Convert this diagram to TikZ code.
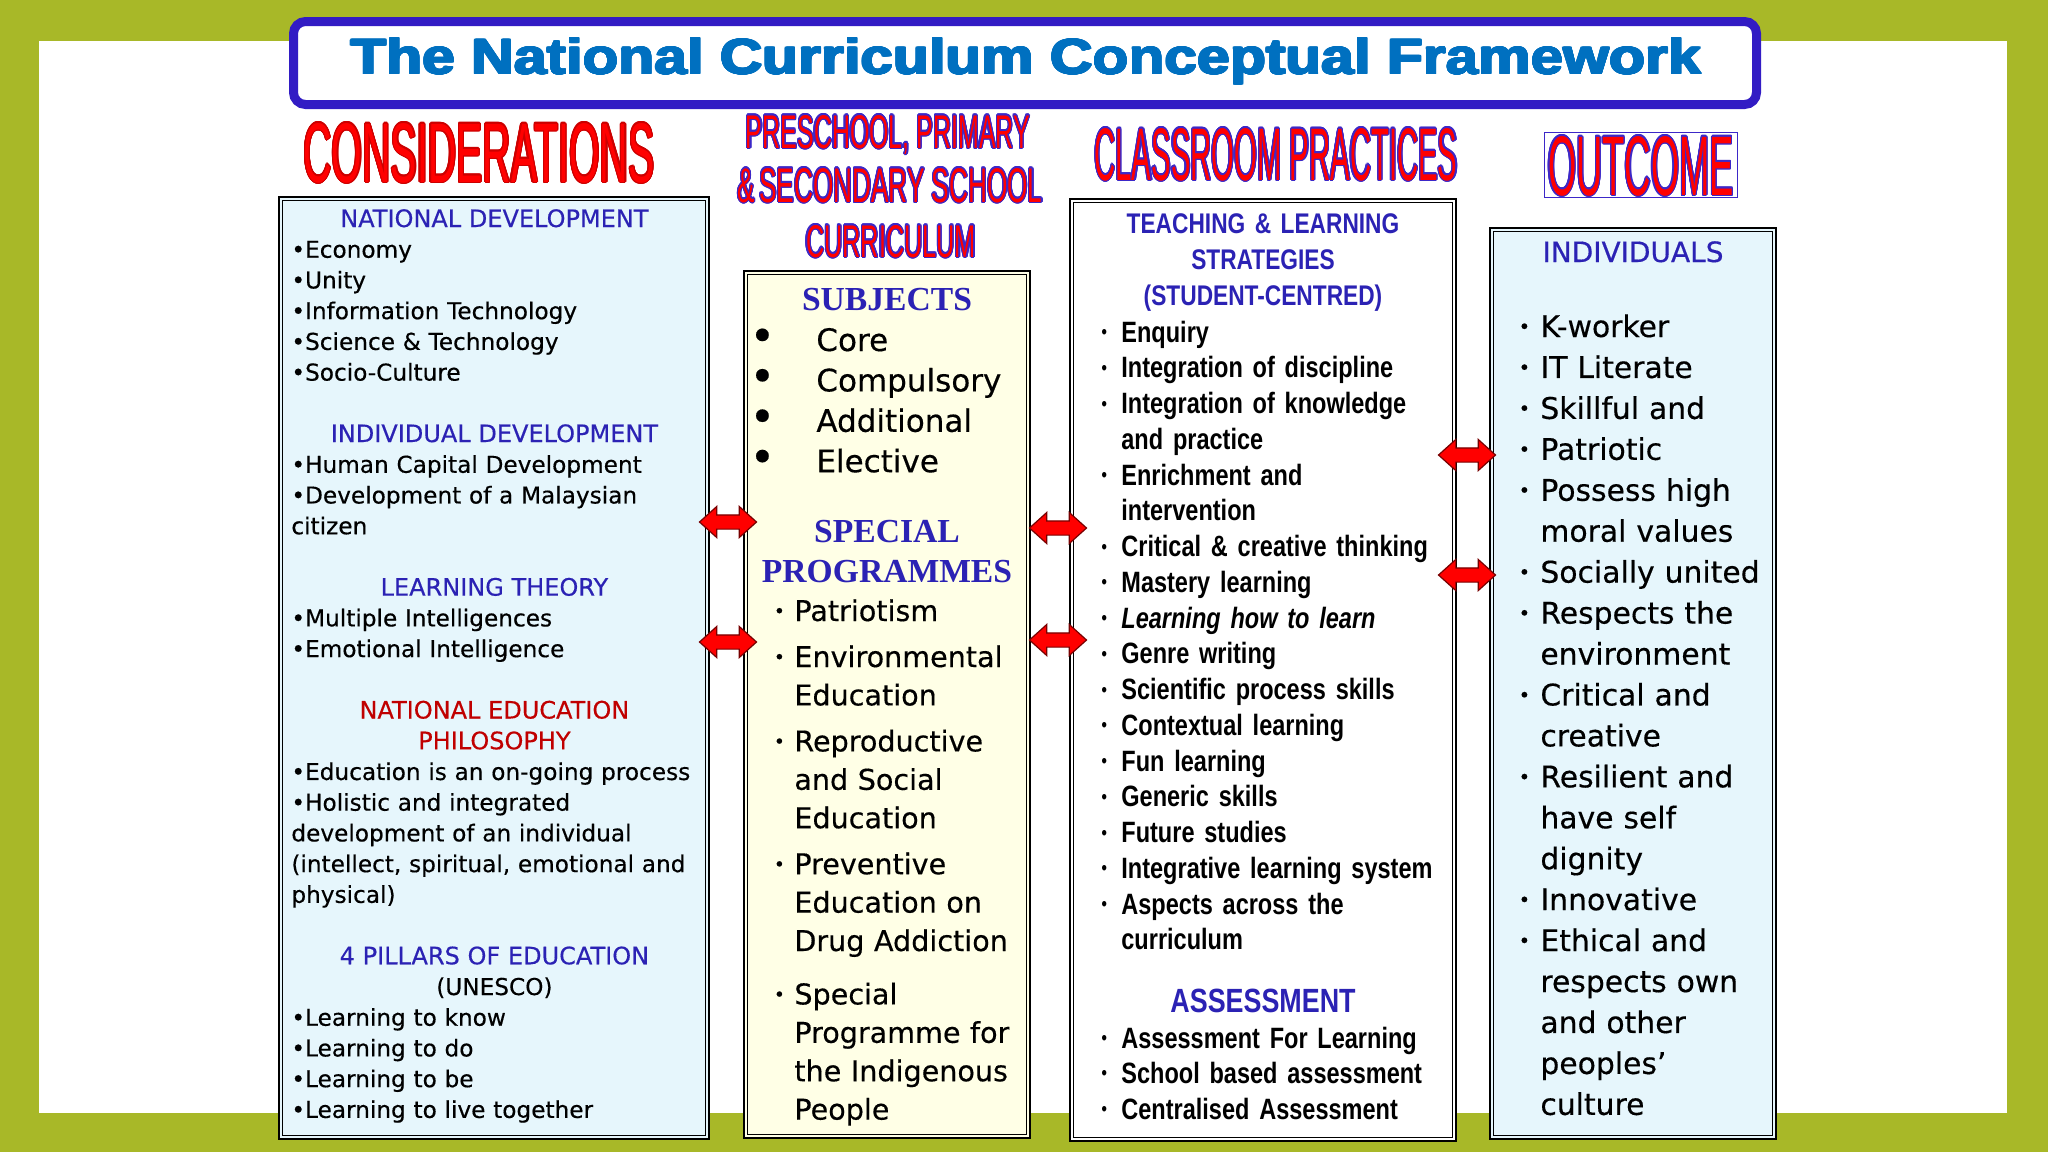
\documentclass[tikz,border=0pt]{standalone}
\usepackage{graphicx}
\usepackage{fontspec}
\setmainfont{DejaVu Sans}[FakeBold=0.4]
\newfontfamily\arialfont{Liberation Sans}
\newfontfamily\narrowfont{Liberation Sans}[FakeStretch=0.8]
\newfontfamily\timesfont{Liberation Serif}
\usepackage[copies]{contour}
\usetikzlibrary{calc,shapes.arrows}

\definecolor{bggreen}{RGB}{168,184,40}
\definecolor{ttlblue}{RGB}{50,28,196}
\definecolor{ttltext}{RGB}{0,112,192}
\definecolor{hdblue}{RGB}{43,34,180}
\definecolor{hdred}{RGB}{192,0,0}
\definecolor{lineblue}{RGB}{60,40,200}
\definecolor{boxblue}{RGB}{230,246,252}
\definecolor{boxyellow}{RGB}{255,255,230}
\definecolor{arrowedge}{RGB}{120,0,0}

\contourlength{0.6pt}
\contournumber{16}

\newlength\bulw
\newcommand\blt{•}
\newcommand\smallblt{\raisebox{0.12em}{\scalebox{0.65}{•}}}
\newcommand\li[1]{\mbox{#1}\par}
\newcommand\hd[2]{{\centering\color{#1}#2\par}}
\newcommand\gap{\mbox{}\par}
\newcommand\bi[1]{\mbox{\makebox[\bulw]{\blt}#1}\par}
\newcommand\ci[1]{\mbox{\hspace*{\bulw}#1}\par}

\tikzset{
	txt/.style={inner sep=0pt,align=left},
	hdr/.style={inner sep=0pt,anchor=base,font=\arialfont},
	boxout/.style={draw,line width=1.25pt,inner sep=0pt},
	boxin/.style={line width=0.7pt},
	biarrow/.style={double arrow,fill=red,draw=arrowedge,line width=0.6pt,
		inner xsep=0pt,inner ysep=3.25pt,minimum height=28.5pt,
		double arrow head extend=4.25pt,double arrow tip angle=84}
}

\begin{document}
\begin{tikzpicture}[x=0.5pt,y=-0.5pt]
	\fill[bggreen] (0,0) rectangle (2048,1152);
	\fill[white] (39,41) rectangle (2007,1113);
	\useasboundingbox (0,0) rectangle (2048,1152);

	% title
	\node[draw=ttlblue,line width=4.5pt,rounded corners=6pt,fill=white,inner sep=0pt,
		minimum width=731.5pt,minimum height=41.5pt] (ttlbox) at (1025,63) {};
	\node[hdr,text=ttltext,font=\arialfont\bfseries] (ttltext) at (1026,74)
		{\contourlength{0.45pt}\contour{ttltext}{\resizebox{675pt}{18pt}{The National Curriculum Conceptual Framework}}};

	% column headings
	\node[hdr,text=red] (conshd) at (479,182)
		{\contour{red!80!black}{\resizebox{175.5pt}{29.5pt}{CONSIDERATIONS}}};
	\node[hdr,text=red] (currhd1) at (888,148)
		{\contour{lineblue}{\resizebox{142pt}{16.5pt}{PRESCHOOL, PRIMARY}}};
	\node[hdr,text=red] (currhd2) at (890,202)
		{\contour{lineblue}{\resizebox{152.5pt}{17pt}{\&\,SECONDARY SCHOOL}}};
	\node[hdr,text=red] (currhd3) at (891,257)
		{\contour{lineblue}{\resizebox{85pt}{16pt}{CURRICULUM}}};
	\node[hdr,text=red] (classhd) at (1276,180)
		{\contour{lineblue}{\resizebox{181.5pt}{26pt}{CLASSROOM PRACTICES}}};
	\node[draw=lineblue,line width=0.5pt,inner sep=0pt,minimum width=96.5pt,
		minimum height=32.5pt] (outframe) at (1640.5,164.5) {};
	\node[hdr,text=red] (outhd) at (1641,195)
		{\contour{lineblue}{\resizebox{93pt}{29.5pt}{OUTCOME}}};

	% boxes
	\node[boxout,fill=boxblue,minimum width=215pt,minimum height=471pt] (cons) at (494,668) {};
	\node[boxout,fill=boxyellow,minimum width=143pt,minimum height=433.5pt] (curr) at (887,704.5) {};
	\node[boxout,fill=white,minimum width=193pt,minimum height=471pt] (class) at (1263,670) {};
	\node[boxout,fill=boxblue,minimum width=143pt,minimum height=455.5pt] (outc) at (1633,683.5) {};
	\foreach \b in {cons,curr,class,outc}
		\draw[boxin] ($(\b.north west)+(4.5,4.5)$) rectangle ($(\b.south east)+(-4.5,-4.5)$);

	% considerations
	\node[txt,anchor=base west,text width=203pt,font=\fontsize{11.6}{15.36}\selectfont] (constext) at (291,227) {%
		\hd{hdblue}{\fontsize{12}{15.36}\selectfont NATIONAL DEVELOPMENT}
		\li{•Economy}
		\li{•Unity}
		\li{•Information Technology}
		\li{•Science \& Technology}
		\li{•Socio-Culture}
		\gap
		\hd{hdblue}{\fontsize{12}{15.36}\selectfont INDIVIDUAL DEVELOPMENT}
		\li{•Human Capital Development}
		\li{•Development of a Malaysian}
		\li{citizen}
		\gap
		\hd{hdblue}{\fontsize{12}{15.36}\selectfont LEARNING THEORY}
		\li{•Multiple Intelligences}
		\li{•Emotional Intelligence}
		\gap
		\hd{hdred}{\fontsize{12}{15.36}\selectfont NATIONAL EDUCATION}
		\hd{hdred}{\fontsize{12}{15.36}\selectfont PHILOSOPHY}
		\li{•Education is an on-going process}
		\li{•Holistic and integrated}
		\li{development of an individual}
		\li{(intellect, spiritual, emotional and}
		\li{physical)}
		\gap
		\hd{hdblue}{\fontsize{12}{15.36}\selectfont 4 PILLARS OF EDUCATION}
		\hd{black}{(UNESCO)}
		\li{•Learning to know}
		\li{•Learning to do}
		\li{•Learning to be}
		\li{•Learning to live together}};

	% curriculum
	\node[txt,anchor=base,text=hdblue,font=\timesfont\bfseries\fontsize{16.8}{20}\selectfont] (subjhd) at (887,310) {SUBJECTS};
	\node[txt,anchor=base west,text width=150pt,font=\fontsize{15.5}{20.2}\selectfont] (subjlist) at (708,351) {%
		\setlength\bulw{54pt}\renewcommand\blt{\scalebox{1.4}{•}}%
		\bi{Core}\bi{Compulsory}\bi{Additional}\bi{Elective}};
	\node[txt,anchor=base,align=center,text width=140pt,text=hdblue,
		font=\timesfont\bfseries\fontsize{16.8}{20}\selectfont] (proghd) at (887,542) {SPECIAL\\PROGRAMMES};
	\node[txt,anchor=base west,text width=130pt,font=\fontsize{14.3}{19.2}\selectfont] (proglist) at (764,621) {%
		\setlength\bulw{15pt}\let\blt\smallblt
		\bi{Patriotism}\vspace{3.8pt}
		\bi{Environmental}\ci{Education}\vspace{3.8pt}
		\bi{Reproductive}\ci{and Social}\ci{Education}\vspace{3.8pt}
		\bi{Preventive}\ci{Education on}\ci{Drug Addiction}\vspace{7.5pt}
		\bi{Special}\ci{Programme for}\ci{the Indigenous}\ci{People}};

	% classroom practices
	\node[txt,anchor=base,align=center,text width=185pt,text=hdblue,
		font=\narrowfont\bfseries\fontsize{14.2}{18}\selectfont] (tlhd) at (1263,233)
		{TEACHING \& LEARNING\\STRATEGIES\\(STUDENT-CENTRED)};
	\node[txt,anchor=base west,text width=180pt,font=\narrowfont\bfseries\fontsize{14.7}{17.88}\selectfont] (tllist) at (1087,342) {%
		\setlength\bulw{17pt}\let\blt\smallblt
		\bi{Enquiry}
		\bi{Integration of discipline}
		\bi{Integration of knowledge}\ci{and practice}
		\bi{Enrichment and}\ci{intervention}
		\bi{Critical \& creative thinking}
		\bi{Mastery learning}
		\bi{\itshape Learning how to learn}
		\bi{Genre writing}
		\bi{Scientific process skills}
		\bi{Contextual learning}
		\bi{Fun learning}
		\bi{Generic skills}
		\bi{Future studies}
		\bi{Integrative learning system}
		\bi{Aspects across the}\ci{curriculum}};
	\node[txt,anchor=base,text=hdblue,font=\narrowfont\bfseries\fontsize{16.8}{18}\selectfont] (asshd) at (1263,1012) {ASSESSMENT};
	\node[txt,anchor=base west,text width=180pt,font=\narrowfont\bfseries\fontsize{14.7}{17.75}\selectfont] (asslist) at (1087,1048) {%
		\setlength\bulw{17pt}\let\blt\smallblt
		\bi{Assessment For Learning}
		\bi{School based assessment}
		\bi{Centralised Assessment}};

	% outcome
	\node[txt,anchor=base,text=hdblue,font=\fontsize{14}{18}\selectfont] (indhd) at (1633,262) {INDIVIDUALS};
	\node[txt,anchor=base west,text width=130pt,font=\fontsize{14.9}{20.47}\selectfont] (indlist) at (1508,337) {%
		\setlength\bulw{16pt}\let\blt\smallblt
		\bi{K-worker}
		\bi{IT Literate}
		\bi{Skillful and}
		\bi{Patriotic}
		\bi{Possess high}\ci{moral values}
		\bi{Socially united}
		\bi{Respects the}\ci{environment}
		\bi{Critical and}\ci{creative}
		\bi{Resilient and}\ci{have self}\ci{dignity}
		\bi{Innovative}
		\bi{Ethical and}\ci{respects own}\ci{and other}\ci{peoples’}\ci{culture}};

	% links
	\node[biarrow] (arr1) at (728,522) {};
	\node[biarrow] (arr2) at (728,642) {};
	\node[biarrow] (arr3) at (1058,528) {};
	\node[biarrow] (arr4) at (1058,640) {};
	\node[biarrow] (arr5) at (1467,455) {};
	\node[biarrow] (arr6) at (1467,575) {};
\end{tikzpicture}
\end{document}
